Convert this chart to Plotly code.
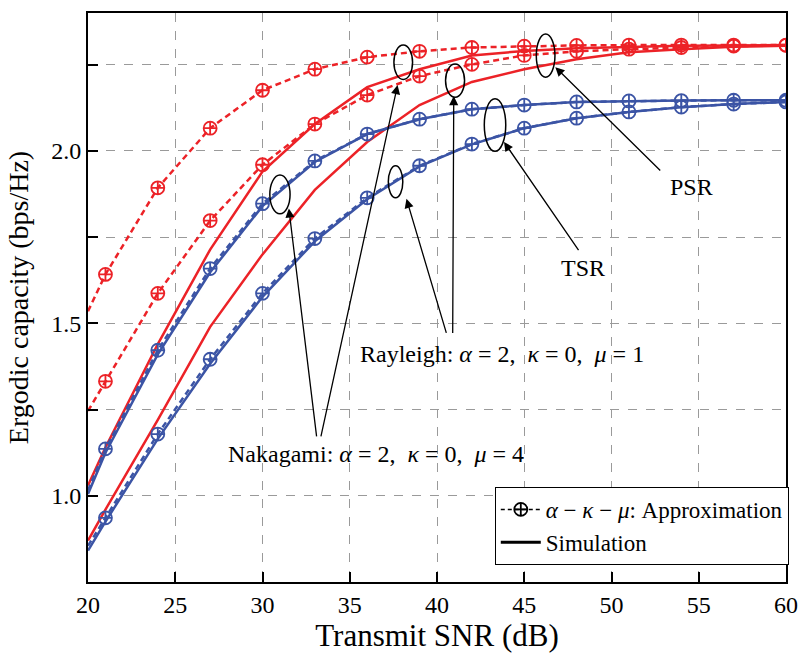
import plotly.graph_objects as go

# ---------------- data ----------------
snr_db = [20, 21, 24, 27, 30, 33, 36, 39, 42, 45, 48, 51, 54, 57, 60]

psr_nak_approx = [1.535, 1.642, 1.893, 2.066, 2.176, 2.237, 2.272, 2.289, 2.300, 2.304, 2.306, 2.307, 2.307, 2.307, 2.307]
psr_ray_approx = [1.246, 1.332, 1.587, 1.798, 1.960, 2.078, 2.162, 2.217, 2.251, 2.277, 2.289, 2.295, 2.300, 2.304, 2.306]
psr_nak_sim = [1.030, 1.140, 1.440, 1.714, 1.940, 2.078, 2.185, 2.237, 2.277, 2.290, 2.298, 2.302, 2.305, 2.306, 2.307]
psr_ray_sim = [0.870, 0.960, 1.220, 1.490, 1.700, 1.887, 2.026, 2.133, 2.200, 2.237, 2.266, 2.286, 2.295, 2.302, 2.305]

tsr_nak_approx = [1.016, 1.136, 1.422, 1.659, 1.847, 1.971, 2.049, 2.092, 2.121, 2.133, 2.142, 2.145, 2.146, 2.147, 2.147]
tsr_nak_sim = [1.005, 1.125, 1.410, 1.648, 1.840, 1.968, 2.049, 2.092, 2.121, 2.133, 2.142, 2.145, 2.146, 2.147, 2.147]
tsr_ray_approx = [0.855, 0.936, 1.179, 1.396, 1.587, 1.746, 1.864, 1.957, 2.020, 2.066, 2.095, 2.113, 2.127, 2.136, 2.142]
tsr_ray_sim = [0.841, 0.925, 1.165, 1.383, 1.577, 1.738, 1.860, 1.955, 2.019, 2.066, 2.095, 2.113, 2.127, 2.136, 2.142]

x_ticks = [20, 25, 30, 35, 40, 45, 50, 55, 60]
x_ticktext = ["20", "25", "30", "35", "40", "45", "50", "55", "60"]
y_ticks = [1.0, 1.25, 1.5, 1.75, 2.0, 2.25]
y_ticktext = ["1.0", "", "1.5", "", "2.0", ""]

RED = "#EC2227"
BLUE = "#3B54A5"
FONT = "Liberation Serif, Times New Roman, serif"

fig = go.Figure()

def add_approx(y, color):
    fig.add_trace(go.Scatter(x=snr_db, y=y, mode="lines", showlegend=False,
                             line=dict(color=color, width=2.5, dash="6px,4px")))
    fig.add_trace(go.Scatter(x=snr_db[1:], y=y[1:], mode="markers", showlegend=False,
                             marker=dict(symbol="circle-cross-open", size=13, color=color,
                                         line=dict(width=1.8, color=color))))

def add_sim(y, color):
    fig.add_trace(go.Scatter(x=snr_db, y=y, mode="lines", showlegend=False,
                             line=dict(color=color, width=2.5)))

add_sim(psr_nak_sim, RED)
add_sim(psr_ray_sim, RED)
add_approx(psr_nak_approx, RED)
add_approx(psr_ray_approx, RED)
add_sim(tsr_nak_sim, BLUE)
add_sim(tsr_ray_sim, BLUE)
add_approx(tsr_nak_approx, BLUE)
add_approx(tsr_ray_approx, BLUE)

# legend entries
fig.add_trace(go.Scatter(x=[None], y=[None], mode="lines+markers",
                         name="<i>α</i> − <i>κ</i> − <i>μ</i>: Approximation",
                         line=dict(color="black", width=1.5, dash="4px,3px"),
                         marker=dict(symbol="circle-cross-open", size=13, color="black",
                                     line=dict(width=1.8, color="black"))))
fig.add_trace(go.Scatter(x=[None], y=[None], mode="lines", name="Simulation",
                         line=dict(color="black", width=3)))

# ellipses (data coords)
ellipses = [
    (30.42, 31.58, 1.818, 1.930),
    (37.53, 38.60, 2.207, 2.307),
    (37.21, 38.04, 1.864, 1.957),
    (40.49, 41.58, 2.156, 2.252),
    (42.71, 43.94, 1.999, 2.151),
    (45.69, 46.76, 2.214, 2.339),
]
for x0, x1, y0, y1 in ellipses:
    fig.add_shape(type="circle", xref="x", yref="y", x0=x0, x1=x1, y0=y0, y1=y1,
                  line=dict(color="black", width=1.5))

# arrows: (tip x, tip y, tail x, tail y)
arrows = [
    (31.51, 1.833, 33.11, 1.168),
    (37.74, 2.191, 33.33, 1.168),
    (38.25, 1.861, 40.56, 1.468),
    (40.96, 2.159, 40.90, 1.468),
    (43.84, 2.026, 48.17, 1.708),
    (46.78, 2.243, 52.88, 1.939),
]
for tx, ty, sx, sy in arrows:
    fig.add_annotation(x=tx, y=ty, ax=sx, ay=sy, xref="x", yref="y", axref="x", ayref="y",
                       text="", showarrow=True, arrowhead=2, arrowsize=1.4, arrowwidth=1.3,
                       arrowcolor="black")

labels = [
    (48.36, 1.662, "TSR"),
    (54.58, 1.896, "PSR"),
    (43.73, 1.410, "Rayleigh: <i>α</i> = 2,  <i>κ</i> = 0,  <i>μ</i> = 1"),
    (36.50, 1.121, "Nakagami: <i>α</i> = 2,  <i>κ</i> = 0,  <i>μ</i> = 4"),
]
for lx, ly, t in labels:
    fig.add_annotation(x=lx, y=ly, xref="x", yref="y", text=t, showarrow=False,
                       font=dict(family=FONT, size=24, color="black"))

axis_common = dict(showline=True, linecolor="black", linewidth=2, mirror=True,
                   ticks="inside", ticklen=10, tickwidth=2, tickcolor="black",
                   showgrid=True, gridcolor="#9a9a9a", gridwidth=1, griddash="dash",
                   zeroline=False, tickfont=dict(family=FONT, size=24, color="black"))

fig.update_xaxes(range=[20, 60], tickvals=x_ticks, ticktext=x_ticktext,
                 title=dict(text="Transmit SNR (dB)", font=dict(family=FONT, size=31, color="black"),
                            standoff=2),
                 **axis_common)
fig.update_yaxes(range=[0.75, 2.4], tickvals=y_ticks, ticktext=y_ticktext,
                 title=dict(text="Ergodic capacity (bps/Hz)", font=dict(family=FONT, size=28, color="black"),
                            standoff=14),
                 **axis_common)

fig.update_layout(
    width=809, height=654,
    margin=dict(l=88, r=13, t=11, b=72),
    plot_bgcolor="white", paper_bgcolor="white",
    font=dict(family=FONT, color="black"),
    legend=dict(x=1.004, y=0.03, xanchor="right", yanchor="bottom",
                bgcolor="white", bordercolor="black", borderwidth=1,
                font=dict(family=FONT, size=23, color="black"),
                tracegroupgap=0, itemwidth=40),
)

fig.write_html("out.html")
